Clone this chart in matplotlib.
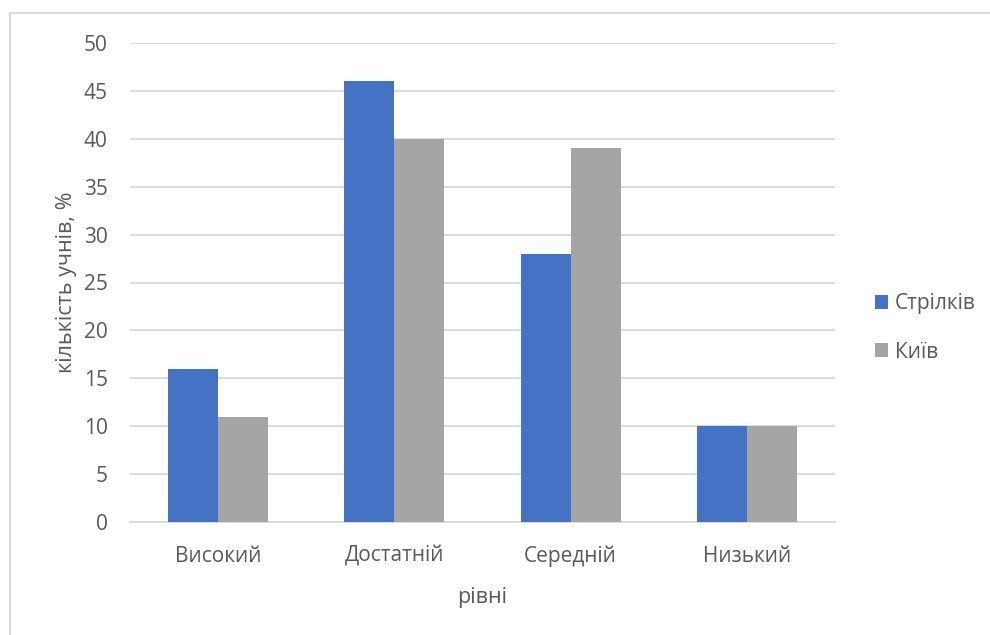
import matplotlib
matplotlib.use("Agg")
import matplotlib.pyplot as plt
from matplotlib.lines import Line2D
import numpy as np

categories = ["Високий", "Достатній", "Середній", "Низький"]
series_names = ["Стрілків", "Київ"]
strilkiv = [16, 46, 28, 10]
kyiv = [11, 40, 39, 10]
y_ticks = [0, 5, 10, 15, 20, 25, 30, 35, 40, 45, 50]

plt.rcParams["font.family"] = ["Open Sans", "DejaVu Sans"]
text_color = "#595959"
grid_color = "#d9d9d9"
colors = ["#4472c4", "#a5a5a5"]

fig = plt.figure(figsize=(9.9, 6.35), dpi=100)
ax = fig.add_axes([130 / 990, 1 - 522 / 635, 705 / 990, 479 / 635])

x = np.arange(len(categories))
width = 50 / 176
ax.bar(x - width / 2, strilkiv, width, color=colors[0], label=series_names[0], zorder=3)
ax.bar(x + width / 2, kyiv, width, color=colors[1], label=series_names[1], zorder=3)

ax.set_xlim(-0.5, len(categories) - 0.5)
ax.set_ylim(0, 50)
ax.set_yticks(y_ticks)
ax.set_xticks(x)
ax.set_xticklabels(categories)
ax.yaxis.grid(True, color=grid_color, linewidth=1.3, zorder=0)
ax.set_axisbelow(True)
for side in ["top", "right", "left"]:
    ax.spines[side].set_visible(False)
ax.spines["bottom"].set_color(grid_color)
ax.spines["bottom"].set_linewidth(1.3)
ax.tick_params(axis="both", length=0, labelsize=15, labelcolor=text_color)
ax.tick_params(axis="y", pad=16)
ax.tick_params(axis="x", pad=17)

ax.set_ylabel("кількість учнів, %", fontsize=15.5, color=text_color, labelpad=5)
ax.set_xlabel("рівні", fontsize=15.5, color=text_color, labelpad=14)

leg = fig.legend(loc="center left", bbox_to_anchor=(856 / 990, 1 - 328 / 635),
                 frameon=False, fontsize=15, handlelength=0.62, handleheight=0.62,
                 handletextpad=0.35, labelspacing=1.3, labelcolor=text_color)

# chart frame edges
fig.add_artist(Line2D([10 / 990, 1], [1 - 13 / 635, 1 - 13 / 635], color="#d9d9d9", linewidth=1.5))
fig.add_artist(Line2D([10 / 990, 10 / 990], [0, 1 - 13 / 635], color="#d9d9d9", linewidth=1.5))

fig.savefig("out.png", dpi=100, facecolor="white")
